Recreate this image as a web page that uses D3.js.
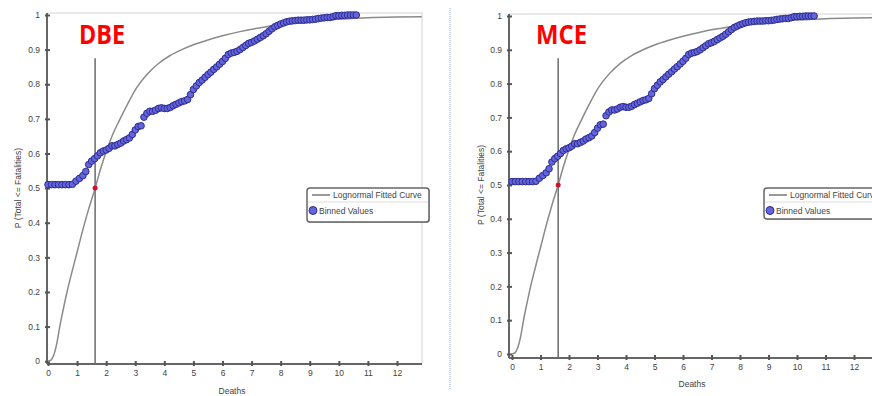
<!DOCTYPE html>
<html>
<head>
<meta charset="utf-8">
<script src="https://cdn.jsdelivr.net/npm/d3@7"></script>
<style>
  body { margin: 0; background: #fff; }
  svg { display: block; font-family: "Liberation Sans", Arial, sans-serif; }
</style>
</head>
<body>
<div id="chart"></div>
<script>
// binned values (Deaths vs cumulative probability)
var binX = [0.00,0.12,0.24,0.36,0.48,0.60,0.72,0.84,0.96,1.08,1.20,1.30,1.40,1.50,1.60,1.70,1.80,1.90,2.00,2.10,
  2.20,2.30,2.40,2.50,2.60,2.70,2.80,2.90,3.00,3.10,3.20,3.30,3.40,3.50,3.60,3.70,3.80,3.90,4.00,4.10,
  4.20,4.30,4.40,4.50,4.60,4.70,4.80,4.90,5.00,5.10,5.20,5.30,5.40,5.50,5.60,5.70,5.80,5.90,6.00,6.10,
  6.20,6.30,6.40,6.50,6.60,6.70,6.80,6.90,7.00,7.10,7.20,7.30,7.40,7.50,7.60,7.70,7.80,7.90,8.00,8.10,
  8.20,8.30,8.40,8.50,8.60,8.70,8.80,8.90,9.00,9.10,9.20,9.30,9.40,9.50,9.60,9.70,9.80,9.90,10.00,10.10,
  10.20,10.30,10.40,10.50,10.60];
var binP = [0.510,0.510,0.510,0.510,0.510,0.510,0.510,0.511,0.520,0.528,0.536,0.548,0.568,0.578,0.585,0.593,0.602,0.607,0.610,0.615,
  0.622,0.622,0.626,0.630,0.636,0.640,0.645,0.655,0.668,0.678,0.680,0.705,0.716,0.722,0.722,0.725,0.730,0.732,0.730,0.730,
  0.733,0.738,0.742,0.746,0.750,0.752,0.756,0.770,0.785,0.795,0.805,0.812,0.820,0.828,0.835,0.843,0.850,0.858,0.866,0.875,
  0.886,0.890,0.892,0.895,0.900,0.906,0.912,0.918,0.921,0.925,0.930,0.935,0.940,0.946,0.953,0.960,0.966,0.970,0.974,0.977,
  0.980,0.982,0.983,0.984,0.985,0.985,0.985,0.986,0.986,0.987,0.988,0.990,0.991,0.992,0.993,0.993,0.995,0.998,0.998,0.999,
  0.999,1.000,1.000,1.000,1.000];

// lognormal fitted curve
var fitX = [0.00,0.10,0.20,0.30,0.40,0.52,0.64,0.80,1.00,1.20,1.40,1.62,1.80,2.00,2.20,2.45,2.75,3.05,3.40,3.80,
  4.20,4.60,5.00,5.50,6.00,6.60,7.20,7.80,8.50,9.20,10.0,11.0,12.0,12.85];
var fitP = [0.000,0.003,0.018,0.050,0.098,0.148,0.195,0.250,0.315,0.380,0.440,0.500,0.553,0.605,0.650,0.695,0.745,0.790,0.828,0.860,
  0.883,0.900,0.914,0.928,0.940,0.952,0.962,0.970,0.978,0.984,0.988,0.992,0.994,0.995];

// median marker
var medianX = 1.62;
var medianP = 0.5;
var medianTop = 0.875;

var xTicks = [0,1,2,3,4,5,6,7,8,9,10,11,12];
var yTicks = [0,0.1,0.2,0.3,0.4,0.5,0.6,0.7,0.8,0.9,1];
var panelLabels = ["DBE", "MCE"];

var svg = d3.select("#chart").append("svg")
    .attr("width", 872)
    .attr("height", 396);

// separator between the two screenshots
svg.append("line")
    .attr("x1", 450).attr("x2", 450)
    .attr("y1", 8).attr("y2", 390)
    .attr("stroke", "#c9d5e9")
    .attr("stroke-width", 2)
    .attr("stroke-dasharray", "1,1");

var panels = [
  { name: panelLabels[0], x0: 48, x12: 397, xEnd: 422, axisY: 364, yTop: 15, yMin: -0.008, axisX: 47,
    labelX: 79, labelY: 44, labelW: 46, ylabX: 18, xlabX: 232, xlabY: 394, legX: 307, legY: 188, legW: 122, legH: 34 },
  { name: panelLabels[1], x0: 512, x12: 854, xEnd: 880, axisY: 358, yTop: 16, yMin: -0.012, axisX: 509,
    labelX: 536, labelY: 44, labelW: 51, ylabX: 481, xlabX: 692, xlabY: 387, legX: 764, legY: 188, legW: 122, legH: 31 }
];

panels.forEach(function(p) {
  var x = d3.scaleLinear().domain([0, 12]).range([p.x0, p.x12]);
  var y = d3.scaleLinear().domain([p.yMin, 1]).range([p.axisY, p.yTop]);
  var g = svg.append("g");

  // faint plot frame (top and right)
  g.append("path")
    .attr("d", "M" + p.axisX + "," + (p.yTop - 2) + "H" + p.xEnd + "V" + p.axisY)
    .attr("fill", "none")
    .attr("stroke", "#e2e2e2")
    .attr("stroke-width", 1.5);

  // y axis
  var yAxis = d3.axisLeft(y).tickValues(yTicks)
      .tickFormat(function(d) { return d3.format("")(+d.toFixed(1)); })
      .tickSize(0).tickPadding(7);
  var ya = g.append("g").attr("transform", "translate(" + p.axisX + ",0)").call(yAxis);
  ya.select(".domain").attr("stroke", "#666").attr("stroke-width", 2)
    .attr("d", "M0," + (p.yTop - 2) + "V" + p.axisY);
  ya.selectAll(".tick").append("line")
    .attr("x1", -2).attr("x2", 3).attr("stroke", "#555").attr("stroke-width", 2);
  ya.selectAll("text").attr("fill", "#444").style("font-size", "8.5px");

  // x axis
  var xAxis = d3.axisBottom(x).tickValues(xTicks).tickSize(0).tickPadding(6);
  var xa = g.append("g").attr("transform", "translate(0," + p.axisY + ")").call(xAxis);
  xa.select(".domain").attr("stroke", "#666").attr("stroke-width", 2)
    .attr("d", "M" + p.axisX + ",0H" + p.xEnd);
  xa.selectAll(".tick").append("line")
    .attr("y1", -3).attr("y2", 2).attr("stroke", "#555").attr("stroke-width", 2);
  xa.selectAll("text").attr("fill", "#444").style("font-size", "8.5px");

  // axis titles
  g.append("text")
    .attr("transform", "translate(" + p.ylabX + "," + ((y(0) + y(1)) / 2) + ") rotate(-90)")
    .attr("text-anchor", "middle")
    .attr("dy", "0.35em")
    .attr("fill", "#444")
    .style("font-size", "8.5px")
    .text("P (Total <= Fatalities)");
  g.append("text")
    .attr("x", p.xlabX).attr("y", p.xlabY)
    .attr("text-anchor", "middle")
    .attr("fill", "#444")
    .style("font-size", "8.5px")
    .text("Deaths");

  // vertical median line
  g.append("line")
    .attr("x1", x(medianX)).attr("x2", x(medianX))
    .attr("y1", y(medianTop)).attr("y2", p.axisY)
    .attr("stroke", "#6a6a6a")
    .attr("stroke-width", 1.5);

  // fitted curve
  var fit = fitX.map(function(d, i) { return [d, fitP[i]]; });
  g.append("path")
    .datum(fit)
    .attr("fill", "none")
    .attr("stroke", "#8a8a8a")
    .attr("stroke-width", 1.5)
    .attr("d", d3.line().curve(d3.curveMonotoneX)
      .x(function(d) { return x(d[0]); })
      .y(function(d) { return y(d[1]); }));

  // binned values
  var bins = binX.map(function(d, i) { return [d, binP[i]]; });
  g.selectAll(".bin")
    .data(bins)
  .enter().append("circle")
    .attr("class", "bin")
    .attr("cx", function(d) { return x(d[0]); })
    .attr("cy", function(d) { return y(d[1]); })
    .attr("r", 3.3)
    .attr("fill", "#6464dc")
    .attr("stroke", "#2c2c90")
    .attr("stroke-width", 1);

  // red median point
  g.append("circle")
    .attr("cx", x(medianX)).attr("cy", y(medianP))
    .attr("r", 2.5)
    .attr("fill", "#d0102a");

  // panel label
  g.append("text")
    .attr("x", p.labelX).attr("y", p.labelY)
    .attr("fill", "#ff0000")
    .attr("textLength", p.labelW)
    .attr("lengthAdjust", "spacingAndGlyphs")
    .style("font-family", "'Open Sans', 'Liberation Sans', sans-serif")
    .style("font-weight", "bold")
    .style("font-size", "27px")
    .text(p.name);

  // legend
  var lg = g.append("g").attr("transform", "translate(" + p.legX + "," + p.legY + ")");
  lg.append("rect")
    .attr("x", 1).attr("y", 1)
    .attr("width", p.legW).attr("height", p.legH)
    .attr("rx", 3)
    .attr("fill", "#bbb");
  lg.append("rect")
    .attr("width", p.legW).attr("height", p.legH)
    .attr("rx", 3)
    .attr("fill", "#fff")
    .attr("stroke", "#666")
    .attr("stroke-width", 1.5);
  lg.append("line")
    .attr("x1", 5).attr("x2", 23).attr("y1", 7).attr("y2", 7)
    .attr("stroke", "#777").attr("stroke-width", 1.5);
  lg.append("text")
    .attr("x", 26).attr("y", 10)
    .attr("fill", "#444")
    .style("font-size", "8.5px")
    .text("Lognormal Fitted Curve");
  lg.append("line")
    .attr("x1", 1).attr("x2", p.legW - 1).attr("y1", 14).attr("y2", 14)
    .attr("stroke", "#ddd");
  lg.append("circle")
    .attr("cx", 6).attr("cy", 22.5).attr("r", 4)
    .attr("fill", "#6464dc").attr("stroke", "#2c2c90");
  lg.append("text")
    .attr("x", 12).attr("y", 25.5)
    .attr("fill", "#444")
    .style("font-size", "8.5px")
    .text("Binned Values");
});
</script>
</body>
</html>
